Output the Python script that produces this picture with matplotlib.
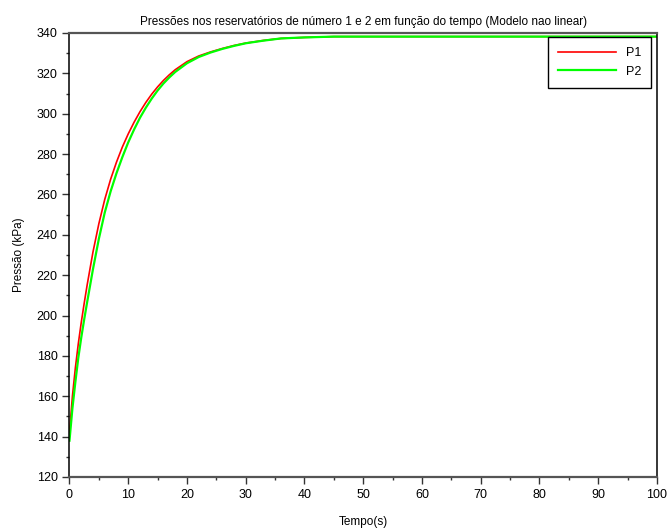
import matplotlib.pyplot as plt
from matplotlib.ticker import MultipleLocator

plt.rcParams['font.family'] = ['Liberation Sans', 'DejaVu Sans']

# Dados
tempo = [0, 0.5, 1, 1.5, 2, 2.5, 3, 4, 5, 6, 7, 8, 9, 10, 11, 12, 13, 14, 15, 16, 17, 18,
         20, 22, 24, 26, 28, 30, 33, 36, 40, 45, 100]
p1 = [142, 160, 174, 186, 196.5, 206, 215, 231.5, 245.5, 257.5, 267.5, 276, 283.5, 290, 295.8,
      301, 305.6, 309.7, 313.3, 316.5, 319.3, 321.8, 325.8, 328.6, 330.6, 332.3, 333.8, 335,
      336.3, 337.3, 337.8, 338.2, 338.2]
p2 = [138, 154, 167, 179, 189, 198, 206.5, 223, 238, 251, 261.5, 270.5, 278.5, 285.8, 292.2,
      298, 303, 307.5, 311.5, 315, 318, 320.7, 325, 328.1, 330.3, 332.1, 333.6, 334.9, 336.2,
      337.3, 337.8, 338.2, 338.2]

fig = plt.figure(figsize=(6.7, 5.32), dpi=100)
ax = fig.add_axes([0.1037, 0.1034, 0.8769, 0.8346])

ax.plot(tempo, p1, color="#ff0000", linewidth=1.2, label="P1")
ax.plot(tempo, p2, color="#00ff00", linewidth=1.6, label="P2")

ax.set_xlim(0, 100)
ax.set_ylim(120, 340)
ax.xaxis.set_major_locator(MultipleLocator(10))
ax.xaxis.set_minor_locator(MultipleLocator(5))
ax.yaxis.set_major_locator(MultipleLocator(20))
ax.yaxis.set_minor_locator(MultipleLocator(10))
ax.tick_params(which="major", direction="out", length=5, width=1, labelsize=9, colors="#333333")
ax.tick_params(which="minor", direction="out", length=2.5, width=1, colors="#333333")
ax.tick_params(labelcolor="black")

for s in ["top", "bottom"]:
    ax.spines[s].set_color("#555555")
    ax.spines[s].set_linewidth(1.6)
for s in ["left", "right"]:
    ax.spines[s].set_color("black")
    ax.spines[s].set_linewidth(1.1)

ax.set_title("Pressões nos reservatórios de número 1 e 2 em função do tempo (Modelo nao linear)",
             fontsize=8.5, pad=6)
ax.set_xlabel("Tempo(s)", fontsize=8.5)
ax.set_ylabel("Pressão (kPa)", fontsize=8.5)
ax.xaxis.set_label_coords(0.5, -0.088)
ax.yaxis.set_label_coords(-0.076, 0.5)

leg = ax.legend(loc="upper right", bbox_to_anchor=(0.99, 0.991), borderaxespad=0,
                fontsize=9, handlelength=4.6, handletextpad=0.8, labelspacing=0.55,
                borderpad=0.8, fancybox=False, framealpha=1)
leg.get_frame().set_edgecolor("black")
leg.get_frame().set_linewidth(1)

fig.savefig("out.png", dpi=100)
